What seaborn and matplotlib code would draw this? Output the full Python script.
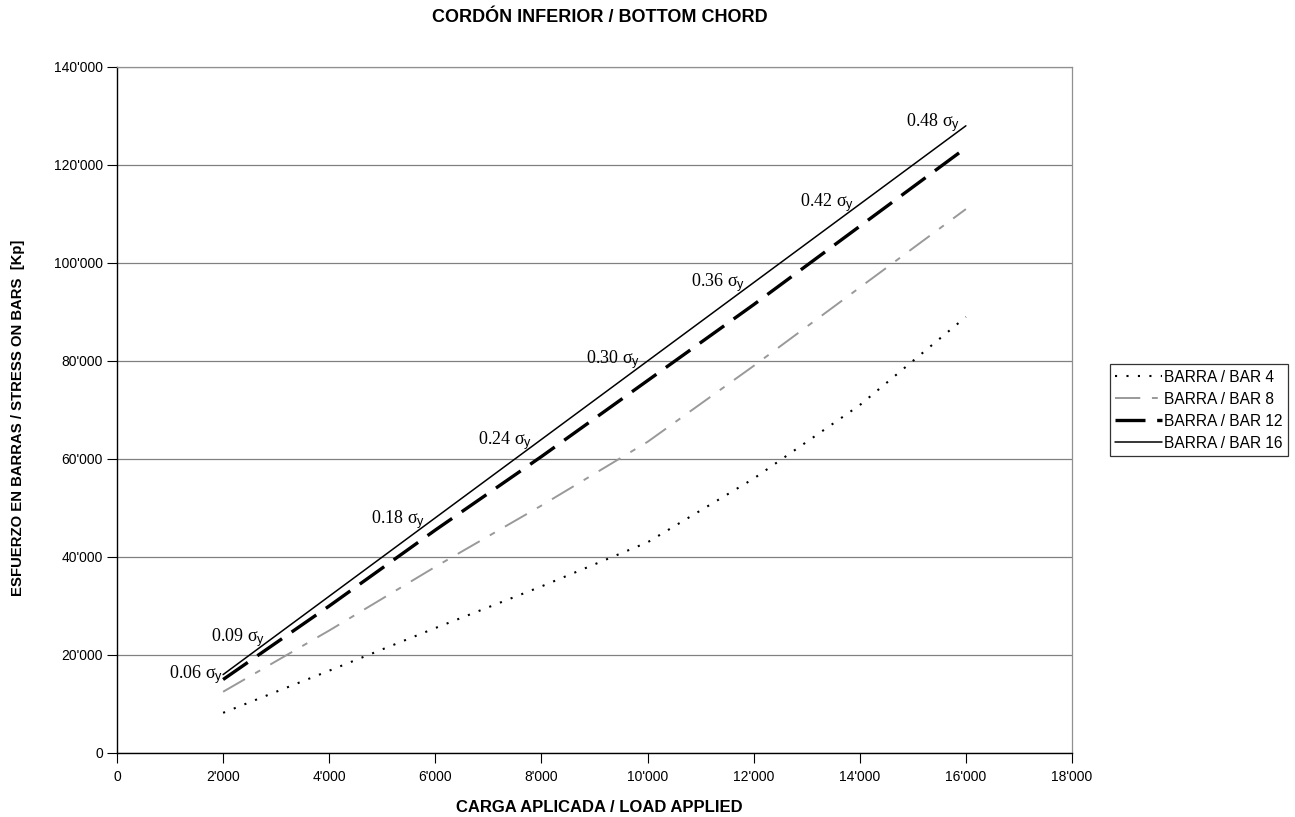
import matplotlib
matplotlib.use("Agg")
import matplotlib.pyplot as plt
import matplotlib.ticker as mticker
import seaborn as sns
import pandas as pd

# ---- data ----
load = [2000, 4000, 6000, 8000, 10000, 12000, 14000, 16000]
bar4 = [8200, 16800, 25500, 34000, 43000, 56000, 71000, 89000]
bar8 = [12500, 25000, 38000, 50500, 63500, 79000, 95000, 111000]
bar12 = [15000, 30000, 45500, 60500, 76000, 91500, 107500, 123500]
bar16 = [16000, 32000, 48000, 64000, 80000, 96000, 112000, 128000]
series_names = ["BARRA / BAR 4", "BARRA / BAR 8", "BARRA / BAR 12", "BARRA / BAR 16"]

ann_text = ["0.06", "0.09", "0.18", "0.24", "0.30", "0.36", "0.42", "0.48"]
ann_x = [2000, 2790, 5800, 7820, 9860, 11840, 13900, 15890]
ann_y = [15300, 22800, 46900, 63100, 79600, 95300, 111600, 128000]

xticks = list(range(0, 18001, 2000))
yticks = list(range(0, 140001, 20000))

# ---- plot ----
sns.set_style("white")
plt.rcParams['font.family'] = ['Liberation Sans', 'DejaVu Sans']
plt.rcParams['text.color'] = 'black'
plt.rcParams['axes.labelcolor'] = 'black'
plt.rcParams['xtick.color'] = 'black'
plt.rcParams['ytick.color'] = 'black'
plt.rcParams['mathtext.fontset'] = 'custom'
plt.rcParams['mathtext.rm'] = 'Liberation Serif'
plt.rcParams['mathtext.it'] = 'Liberation Serif:italic'
plt.rcParams['mathtext.sf'] = 'Liberation Sans'

fig = plt.figure(figsize=(12.95, 8.17), dpi=100)
ax = fig.add_axes([117/1295, 1-753/817, (1072-117)/1295, (753-67)/817])

styles = [
    dict(color="black", lw=1.5, dashes=(1, 4.5)),
    dict(color="#999999", lw=1.4, dashes=(13, 6, 3, 6)),
    dict(color="black", lw=2.4, dashes=(9, 3.5)),
    dict(color="black", lw=1.1, dashes=""),
]
data = [bar4, bar8, bar12, bar16]
for name, vals, st in zip(series_names, data, styles):
    df = pd.DataFrame({"load": load, "stress": vals})
    sns.lineplot(data=df, x="load", y="stress", ax=ax,
                 color=st["color"], linewidth=st["lw"], label=name)
    ln = ax.get_lines()[-1]
    if st["dashes"]:
        ln.set_dashes(st["dashes"])

for t, x, y in zip(ann_text, ann_x, ann_y):
    ax.text(x, y, t + r" $\mathrm{\sigma}_{\mathsf{y}}$", ha="right", va="baseline",
            fontsize=13, color="black", family=['Liberation Serif', 'DejaVu Serif'])

ax.set_xlim(0, 18000)
ax.set_ylim(0, 140000)
ax.set_xticks(xticks)
ax.set_yticks(yticks)
fmt = mticker.FuncFormatter(lambda v, p: "0" if v == 0 else f"{int(v):,}".replace(",", "'"))
ax.xaxis.set_major_formatter(fmt)
ax.yaxis.set_major_formatter(fmt)
ax.tick_params(axis="both", direction="out", length=7, width=0.8, labelsize=10,
               bottom=True, left=True, color="black", labelcolor="black", pad=3)
ax.tick_params(axis="x", pad=5)
ax.yaxis.grid(True, color="#808080", linewidth=0.9)
ax.xaxis.grid(False)
for s in ["left", "bottom"]:
    ax.spines[s].set_color("black")
    ax.spines[s].set_linewidth(1.0)
for s in ["top", "right"]:
    ax.spines[s].set_color("#909090")
    ax.spines[s].set_linewidth(0.9)

ax.set_xlabel("")
ax.set_ylabel("")
fig.text(599/1295, 1-808/817, "CARGA APLICADA / LOAD APPLIED", fontsize=12,
         fontweight="bold", ha="center", va="center", color="black")
fig.text(18/1295, 1-418/817, "ESFUERZO EN BARRAS / STRESS ON BARS  [Kp]", fontsize=10.7,
         fontweight="bold", ha="center", va="center", rotation=90, color="black")
fig.text(600/1295, 1-18/817, "CORDÓN INFERIOR / BOTTOM CHORD", fontsize=13,
         fontweight="bold", ha="center", va="center", color="black")

leg = ax.legend(loc="center left", bbox_to_anchor=(1110/1295, 1-410/817),
                bbox_transform=fig.transFigure, frameon=True, fancybox=False,
                edgecolor="black", fontsize=11.2, handlelength=3.0, handletextpad=0.1,
                borderpad=0.35, labelspacing=0.45, borderaxespad=0)
leg.get_frame().set_linewidth(0.9)
for txt in leg.get_texts():
    txt.set_color("black")

fig.savefig("out.png", dpi=100, facecolor="white")
